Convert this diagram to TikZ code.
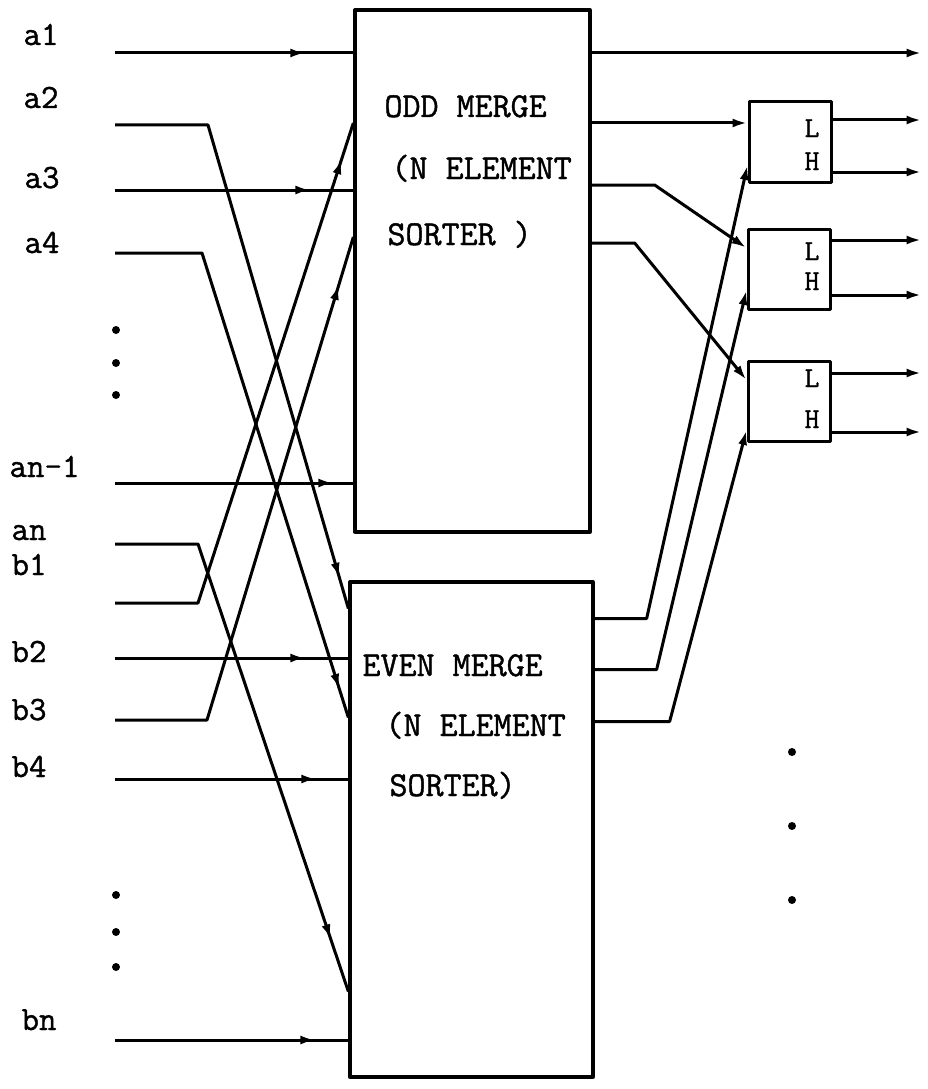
\documentclass[tikz,border=0pt]{standalone}
\usepackage{fontspec}
\newfontfamily\typer[FakeBold=1.2]{Latin Modern Mono}
\usetikzlibrary{arrows.meta, decorations.markings}

\begin{document}
\begin{tikzpicture}[x=1pt, y=-1pt, line width=3pt, line join=round,
  tip/.style={-{Latex[length=15pt,width=9pt]}},
  marr/.style={postaction={decorate}, decoration={markings,
    mark=at position #1 with {\arrow{Latex[length=15pt,width=9pt]}}}},
  lbl/.style={font=\typer\fontsize{34}{34}\selectfont, anchor=base west, inner sep=0pt},
  btxt/.style={font=\typer\fontsize{35}{35}\selectfont, anchor=base west, inner sep=0pt},
  ltxt/.style={font=\typer\fontsize{29}{29}\selectfont, anchor=base, inner sep=0pt},
  merge/.style={draw, line width=3.3pt, inner sep=0pt},
  lhbox/.style={draw, minimum width=82pt, minimum height=80pt, inner sep=0pt}
]
  \path[use as bounding box, fill=white] (0,0) rectangle (927,1089);

  % the two merge networks
  \node[merge, minimum width=235pt, minimum height=522pt] (odd) at (472.5,271) {};
  \node[merge, minimum width=243pt, minimum height=495pt] (even) at (471.5,829.5) {};
  \node[btxt] (odd1) at (383,117) {ODD MERGE};
  \node[btxt] (odd2) at (390,179) {(N ELEMENT};
  \node[btxt] (odd3) at (386,245) {SORTER )};
  \node[btxt] (even1) at (361,676) {EVEN MERGE};
  \node[btxt] (even2) at (384,736) {(N ELEMENT};
  \node[btxt] (even3) at (388,796) {SORTER)};

  % comparators
  \node[lhbox] (lh1) at (790,142) {};
  \node[lhbox] (lh2) at (789,269) {};
  \node[lhbox] (lh3) at (789,401) {};
  \node[ltxt] (l1) at (812,137) {L};
  \node[ltxt] (h1) at (812,170) {H};
  \node[ltxt] (l2) at (812,260) {L};
  \node[ltxt] (h2) at (812,290) {H};
  \node[ltxt] (l3) at (812,387) {L};
  \node[ltxt] (h3) at (812,428) {H};

  % inputs
  \node[lbl] (la1) at (22,45) {a1};
  \node[lbl] (la2) at (22,108) {a2};
  \node[lbl] (la3) at (23,188) {a3};
  \node[lbl] (la4) at (23,253) {a4};
  \node[lbl] (lan1) at (8,477) {an-1};
  \node[lbl] (lan) at (10,540) {an};
  \node[lbl] (lb1) at (10,575) {b1};
  \node[lbl] (lb2) at (10,662) {b2};
  \node[lbl] (lb3) at (10,720) {b3};
  \node[lbl] (lb4) at (10,777) {b4};
  \node[lbl] (lbn) at (20,1030) {bn};

  \coordinate (ia1) at (115,53);
  \coordinate (ia2) at (115,125);
  \coordinate (ia3) at (115,190);
  \coordinate (ia4) at (115,253);
  \coordinate (ian1) at (115,483);
  \coordinate (ian) at (115,544);
  \coordinate (ib1) at (115,603);
  \coordinate (ib2) at (115,658);
  \coordinate (ib3) at (115,720);
  \coordinate (ib4) at (115,779);
  \coordinate (ibn) at (115,1040);

  % straight wires
  \draw[marr=-48pt] (ia1) -- (ia1 -| odd.west);
  \draw[marr=-43pt] (ia3) -- (ia3 -| odd.west);
  \draw[marr=-20pt] (ian1) -- (ian1 -| odd.west);
  \draw[marr=-43pt] (ib2) -- (ib2 -| even.west);
  \draw[marr=-32pt] (ib4) -- (ib4 -| even.west);
  \draw[marr=-33pt] (ibn) -- (ibn -| even.west);

  % crossed wires
  \draw[marr=-32pt] (ia2) -- ++(93,0) -- ([yshift=221pt]even.west);
  \draw[marr=-30pt] (ia4) -- ++(87,0) -- ([yshift=112pt]even.west);
  \draw[marr=-55pt] (ian) -- ++(83,0) -- ([yshift=-162pt]even.west);
  \draw[marr=-38pt] (ib1) -- ++(83,0) -- ([yshift=148pt]odd.west);
  \draw[marr=-50pt] (ib3) -- ++(92,0) -- ([yshift=34pt]odd.west);

  % outputs of the merges
  \draw[tip] (ia1 -| odd.east) -- ++(330,0);
  \draw[tip] ([yshift=148pt]odd.east) -- ([yshift=19pt]lh1.west);
  \draw[tip] ([yshift=86pt]odd.east) -- ++(63,0) -- ([yshift=21pt]lh2.west);
  \draw[tip] ([yshift=28pt]odd.east) -- ++(43,0) -- ([yshift=21pt]lh3.west);
  \draw[tip] ([yshift=211pt]even.east) -- ++(52,0) -- ([yshift=-23pt]lh1.west);
  \draw[tip] ([yshift=160pt]even.east) -- ++(62,0) -- ([yshift=-21pt]lh2.west);
  \draw[tip] ([yshift=108pt]even.east) -- ++(75,0) -- ([yshift=-29pt]lh3.west);

  % outputs of the comparators
  \draw[tip] ([yshift=22pt]lh1.east) -- ++(89,0);
  \draw[tip] ([yshift=-30pt]lh1.east) -- ++(89,0);
  \draw[tip] ([yshift=29pt]lh2.east) -- ++(90,0);
  \draw[tip] ([yshift=-26pt]lh2.east) -- ++(90,0);
  \draw[tip] ([yshift=28pt]lh3.east) -- ++(90,0);
  \draw[tip] ([yshift=-31pt]lh3.east) -- ++(90,0);

  % dots
  \foreach \y in {330,363,395,895,932,967}
    \fill (116,\y) circle (4pt);
  \foreach \y in {752,826,900}
    \fill (792,\y) circle (4pt);
\end{tikzpicture}
\end{document}
